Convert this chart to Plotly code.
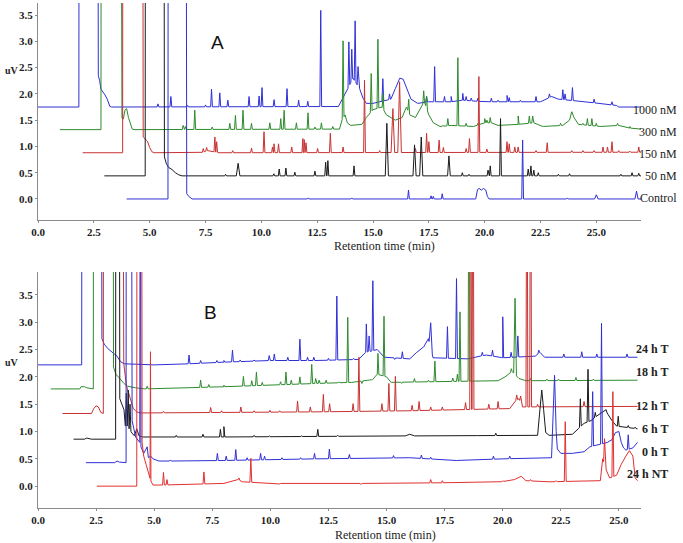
import numpy as np
import plotly.graph_objects as go

# ---------------- Panel A data (retention time min, signal uV) ----------------
A_names = ["1000 nM", "300 nM", "150 nM", "50 nM", "Control"]
A_colors = ["#2f2fd6", "#2e8b2e", "#c83232", "#1a1a1a", "#2f2fd6"]

A_bg_1000 = [(0, 1.75), (1.83, 1.75), (1.84, 8), (2.68, 8), (2.70, 2.35), (2.76, 2.25), (2.82, 2.09),
             (2.9, 2.05), (3.0, 1.98), (3.1, 1.9), (3.22, 1.76), (3.3, 1.75), (13.45, 1.76), (13.7, 1.95),
             (14.1, 2.3), (14.4, 2.1), (14.55, 1.92), (14.7, 1.82), (15.0, 1.82), (15.8, 1.9), (16.0, 2.1),
             (16.2, 2.3), (16.35, 2.28), (16.5, 2.1), (16.7, 1.9), (17.0, 1.82), (17.5, 1.85), (18.5, 1.85),
             (19.0, 1.88), (20.0, 1.85), (21.0, 1.85), (22.5, 1.85), (23.0, 1.95), (23.3, 1.9), (24.5, 1.85),
             (25.9, 1.78), (26.0, 1.75), (27.0, 1.75)]
A_pk_1000 = [(5.37, 1.81), (5.95, 1.95), (6.7, 1.78), (7.5, 1.79), (7.77, 2.09), (8.14, 2.02), (8.5, 1.88),
             (9.45, 1.95), (9.9, 1.96), (10.03, 2.12), (10.57, 1.89), (11.15, 2.1), (11.67, 1.88), (12.08, 1.86),
             (12.66, 3.59), (13.92, 2.99), (14.05, 2.85), (14.2, 3.39), (14.33, 2.52), (15.44, 2.29),
             (15.74, 2.0), (16.04, 2.14), (16.6, 2.0), (17.4, 1.95), (17.76, 2.52), (18.2, 1.95), (18.5, 1.95),
             (19.02, 2.01), (19.17, 1.95), (19.4, 1.92), (19.7, 1.92), (20.3, 1.92), (20.6, 1.88), (21.0, 1.97),
             (21.1, 1.93), (21.6, 1.88), (22.3, 1.95), (22.9, 2.0), (23.5, 2.08), (23.6, 2.0), (23.93, 2.12),
             (24.9, 1.9), (25.7, 1.85)]

A_bg_300 = [(0.98, 1.32), (2.82, 1.32), (2.83, 8), (3.72, 8), (3.76, 1.55), (3.82, 1.52), (3.9, 1.7),
            (3.97, 1.72), (4.05, 1.55), (4.15, 1.4), (4.22, 1.33), (4.3, 1.32), (13.5, 1.33), (13.6, 1.5),
            (13.75, 1.6), (13.85, 1.45), (14.0, 1.4), (14.5, 1.42), (14.7, 1.55), (15.0, 1.7), (15.4, 1.75),
            (15.6, 1.6), (16.0, 1.5), (16.3, 1.55), (16.5, 1.75), (16.65, 1.6), (16.9, 1.55), (17.1, 1.72),
            (17.3, 1.85), (17.5, 1.6), (17.7, 1.45), (18.0, 1.38), (18.5, 1.4), (19.5, 1.38), (20.0, 1.45),
            (20.3, 1.45), (20.6, 1.4), (21.5, 1.42), (22.2, 1.45), (22.6, 1.38), (23.5, 1.4), (23.8, 1.5),
            (24.0, 1.55), (24.2, 1.42), (25.2, 1.38), (26.0, 1.4), (26.5, 1.35), (27.0, 1.33)]
A_pk_300 = [(6.5, 1.40), (6.6, 1.38), (7.02, 1.69), (7.8, 1.37), (8.59, 1.44), (8.84, 1.59), (9.18, 1.69),
            (9.56, 1.44), (10.38, 1.45), (10.87, 1.53), (11.02, 1.69), (11.57, 1.45), (12.09, 1.64),
            (12.4, 1.37), (12.69, 1.45), (13.2, 1.38), (13.66, 3.01), (14.92, 2.39), (15.22, 3.04),
            (15.45, 2.0), (16.6, 1.9), (17.27, 2.06), (17.4, 1.96), (18.13, 1.40), (18.35, 1.53),
            (18.8, 2.69), (19.17, 1.44), (19.7, 1.44), (20.0, 1.53), (20.1, 1.50), (20.25, 1.55), (21.5, 1.58),
            (22.0, 1.58), (22.15, 1.58), (22.6, 1.39), (23.0, 1.39), (23.4, 1.44), (23.9, 1.66, 0.1),
            (24.4, 1.44), (24.6, 1.53), (24.8, 1.53), (25.0, 1.44), (25.95, 1.44), (26.5, 1.38)]

A_bg_150 = [(2.0, 0.88), (3.79, 0.88), (3.80, 8), (4.69, 8), (4.71, 1.18), (4.8, 1.15), (4.9, 1.1),
            (5.0, 0.98), (5.1, 0.9), (5.2, 0.88), (7.3, 0.88), (7.6, 0.92), (8.1, 0.88), (27.0, 0.89)]
A_pk_150 = [(7.4, 0.96), (7.55, 0.98), (7.92, 1.18), (8.0, 1.09), (8.72, 0.92), (9.56, 0.97), (10.12, 1.28),
            (10.5, 0.99), (10.57, 1.05), (10.77, 1.05), (11.36, 0.99), (11.86, 1.15), (11.92, 1.13),
            (12.0, 1.07), (12.52, 0.96), (13.09, 1.25), (13.66, 0.99), (14.62, 2.26), (15.3, 0.92),
            (15.89, 1.72, 0.08), (16.19, 2.23, 0.08), (16.9, 0.96), (17.4, 1.25), (17.5, 1.09), (17.96, 1.12),
            (18.15, 0.98), (19.17, 0.96), (19.32, 1.15), (19.74, 2.33), (20.1, 0.95), (21.0, 1.09),
            (21.1, 1.05), (21.35, 0.99), (21.5, 0.99), (22.3, 0.92), (22.8, 1.07), (23.9, 0.92), (24.4, 0.92),
            (24.9, 0.92), (25.3, 0.99), (25.5, 0.99), (25.7, 1.09), (26.0, 0.92), (26.5, 0.91), (26.9, 0.99)]

A_bg_50 = [(2.97, 0.44), (4.8, 0.44), (4.81, 8), (5.64, 8), (5.66, 0.8), (5.75, 0.67), (5.85, 0.6),
           (6.0, 0.56), (6.15, 0.5), (6.3, 0.46), (6.45, 0.44), (27.0, 0.44)]
A_pk_50 = [(8.4, 0.47), (8.96, 0.68, 0.08), (10.56, 0.48), (10.8, 0.57), (11.1, 0.59), (11.5, 0.51),
           (12.4, 0.53), (12.88, 0.70), (12.98, 0.73), (14.15, 0.63), (15.62, 1.44, 0.07),
           (16.86, 1.03, 0.07), (17.16, 1.18, 0.07), (18.4, 0.82, 0.06), (19.0, 0.5), (19.3, 0.47),
           (20.15, 0.55), (20.25, 0.63), (20.71, 1.53), (21.95, 0.57), (22.07, 0.63), (22.2, 0.55),
           (22.4, 0.5), (23.3, 0.47), (23.8, 0.48), (26.1, 0.47), (26.6, 0.5), (26.9, 0.49)]

A_bg_ctrl = [(3.97, 0.0), (5.82, 0.0), (5.83, 8), (6.63, 8), (6.66, 0.1), (6.75, 0.05), (6.9, 0.0),
             (19.6, 0.0), (19.68, 0.18), (19.75, 0.2), (19.85, 0.17), (19.95, 0.2), (20.05, 0.17),
             (20.12, 0.05), (20.2, 0.0), (27.0, 0.0)]
A_pk_ctrl = [(12.1, 0.02), (14.05, 0.02), (16.59, 0.17), (17.6, 0.06), (17.7, 0.05), (18.1, 0.1),
             (21.7, 1.12), (23.7, 0.02), (25.0, 0.08, 0.08), (26.8, 0.15, 0.07)]

A_bgs = [A_bg_1000, A_bg_300, A_bg_150, A_bg_50, A_bg_ctrl]
A_pks = [A_pk_1000, A_pk_300, A_pk_150, A_pk_50, A_pk_ctrl]
A_label_y = [1.69, 1.27, 0.86, 0.44, 0.02]

# ---------------- Panel B data ----------------
B_names = ["24 h T", "18 h T", "12 h T", "6 h T", "0 h T", "24 h NT"]
B_colors = ["#2f2fd6", "#2e8b2e", "#c83232", "#1a1a1a", "#2f2fd6", "#e03030"]

B_bg_24T = [(0, 2.22), (1.88, 2.22), (1.89, 8), (2.73, 8), (2.75, 2.7), (2.85, 2.6), (3.0, 2.52),
            (3.2, 2.45), (3.4, 2.38), (3.55, 2.28), (3.7, 2.24), (5.0, 2.22), (6.0, 2.23), (8.0, 2.27),
            (10, 2.3), (12, 2.3), (13.8, 2.32), (14.1, 2.45), (14.6, 2.5), (14.9, 2.36), (16, 2.33),
            (16.3, 2.45), (16.6, 2.55), (16.8, 2.7), (17.0, 2.35), (18.5, 2.33), (19, 2.38), (19.3, 2.4),
            (20, 2.35), (21.4, 2.38), (21.6, 2.45), (21.8, 2.36), (25.8, 2.36)]
B_pk_24T = [(6.5, 2.4), (7.0, 2.3), (7.7, 2.3), (8.0, 2.3), (8.37, 2.49), (8.7, 2.31), (9.3, 2.31),
            (9.95, 2.39), (10.17, 2.42), (10.75, 2.36), (11.27, 2.69), (11.6, 2.36), (11.87, 2.36),
            (12.5, 2.34), (12.86, 3.48), (13.58, 2.34), (13.94, 2.4), (14.13, 2.97), (14.25, 2.75),
            (14.41, 3.76), (15.35, 2.32), (15.68, 2.46), (16.9, 2.99, 0.07), (17.62, 2.92), (18.01, 3.80),
            (19.12, 2.45), (19.56, 2.49), (20.0, 3.1), (20.36, 2.45), (20.65, 2.75), (21.55, 2.49),
            (22.63, 2.42), (23.4, 2.46), (24.05, 2.42), (25.35, 2.42)]

B_bg_18T = [(0.55, 1.78), (1.8, 1.78), (1.85, 1.82), (2.0, 1.82), (2.1, 1.8), (2.38, 1.78), (2.39, 8),
            (3.23, 8), (3.25, 2.18), (3.35, 2.05), (3.5, 1.98), (3.7, 1.88), (3.85, 1.83), (4.2, 1.8),
            (4.6, 1.78), (8, 1.82), (12, 1.88), (13.5, 1.9), (14.4, 1.95), (14.6, 2.05), (15.0, 2.0),
            (15.2, 1.9), (19.8, 1.93), (20.1, 2.0), (20.4, 2.1), (20.7, 1.97), (21.0, 1.93), (25.8, 1.94)]
B_pk_18T = [(4.7, 1.83), (7.0, 1.94), (7.35, 1.86), (8.0, 1.85), (8.84, 2.01), (9.2, 1.93), (9.4, 2.09),
            (9.65, 1.9), (10.44, 1.91), (10.67, 2.09), (10.9, 1.94), (11.27, 2.0), (11.78, 2.23),
            (11.95, 1.97), (12.1, 1.94), (12.4, 1.94), (12.95, 1.91), (13.33, 3.09), (13.94, 1.88),
            (14.3, 1.94), (14.63, 2.43), (14.89, 3.11), (15.65, 1.88), (16.2, 1.97), (16.8, 1.94),
            (17.08, 2.29), (17.85, 1.98), (18.05, 2.05), (18.16, 3.19), (18.55, 8), (20.2, 2.05),
            (20.37, 2.15), (20.53, 3.44, 0.06), (21.2, 1.97), (21.9, 1.96), (22.4, 1.96), (23.15, 1.99),
            (23.9, 1.96)]

B_bg_12T = [(1.05, 1.33), (2.3, 1.33), (2.4, 1.42), (2.5, 1.47), (2.6, 1.45), (2.7, 1.35), (2.81, 1.33),
            (2.82, 8), (3.66, 8), (3.69, 2.25), (3.8, 1.85), (3.9, 1.7), (4.0, 1.55), (4.1, 1.42),
            (4.25, 1.36), (4.4, 1.34), (12, 1.36), (16, 1.38), (20.3, 1.42), (20.5, 1.55), (20.7, 1.6),
            (20.85, 1.45), (25.8, 1.46)]
B_pk_12T = [(5.4, 1.37), (7.43, 1.44), (7.9, 1.38), (8.73, 1.45), (9.3, 1.38), (9.98, 1.39), (10.4, 1.38),
            (11.17, 1.56), (11.72, 1.45), (12.28, 1.68), (12.55, 1.51), (13.56, 1.51), (13.81, 2.36),
            (14.8, 1.51), (15.1, 1.88), (15.38, 2.01), (16.1, 1.48), (16.4, 1.55), (16.9, 1.45),
            (17.4, 1.45), (18.4, 1.53), (18.62, 8), (18.72, 8), (19.4, 1.5), (19.8, 1.55), (20.6, 1.67),
            (20.77, 1.65), (21.04, 8), (21.2, 8), (21.5, 1.5), (23.5, 1.55)]

B_bg_6T = [(1.53, 0.86), (2.0, 0.86), (2.1, 0.88), (2.3, 0.86), (3.34, 0.86), (3.35, 8), (3.5, 8),
           (3.52, 1.6), (3.7, 1.4), (3.76, 1.1), (3.8, 1.7), (3.84, 1.1), (3.88, 1.76), (3.92, 1.05),
           (3.96, 1.5), (4.0, 1.0), (4.05, 0.97), (4.15, 0.92), (4.25, 1.05), (4.35, 0.92), (4.5, 0.9),
           (8, 0.9), (15.8, 0.92), (16, 0.95), (16.2, 0.92), (21.5, 0.93), (21.6, 1.4), (21.68, 1.76),
           (21.76, 1.4), (21.85, 0.98), (22, 0.93), (23.0, 0.95), (23.25, 1.05), (23.5, 1.15), (23.8, 1.2),
           (24.1, 1.3), (24.4, 1.4), (24.7, 1.2), (24.9, 1.1), (25.8, 1.05)]
B_pk_6T = [(5.95, 0.93), (7.1, 0.95), (7.85, 1.04), (8.0, 1.09), (9.3, 0.93), (9.95, 0.92), (11.35, 0.92),
           (12.04, 1.04), (12.9, 0.93), (14.6, 0.93), (18.9, 0.93), (19.7, 0.97), (23.34, 1.6),
           (23.67, 2.14), (23.98, 1.35), (24.45, 1.4), (24.97, 1.28), (25.4, 1.11), (25.7, 1.08)]

B_bg_0T = [(2.06, 0.43), (3.3, 0.43), (3.4, 0.46), (3.5, 0.44), (3.79, 0.43), (3.8, 8), (4.02, 8),
           (4.05, 1.2), (4.2, 0.9), (4.38, 0.8), (4.4, 8), (4.43, 0.72), (4.55, 0.6), (4.7, 0.72),
           (4.75, 0.52), (4.85, 0.55), (4.95, 0.5), (5.2, 0.46), (6.0, 0.46), (8, 0.47), (12, 0.5),
           (16, 0.52), (18, 0.47), (20, 0.5), (22.1, 0.52), (22.15, 1.0), (22.23, 2.03), (22.3, 1.0),
           (22.35, 0.68), (22.5, 0.6), (23.0, 0.6), (23.5, 0.63), (23.75, 0.72), (24.5, 0.8), (24.7, 0.85),
           (24.85, 0.98), (25.0, 1.0), (25.1, 0.8), (25.2, 0.7), (25.3, 0.66), (25.6, 0.7), (25.8, 0.8)]
B_pk_0T = [(5.7, 0.48), (6.4, 0.47), (7.72, 0.6), (8.1, 0.55), (8.51, 0.67), (9.0, 0.52), (9.58, 0.6),
           (9.75, 0.55), (10.5, 0.52), (11.3, 0.52), (11.9, 0.6), (12.54, 0.68), (13.4, 0.58), (14.6, 0.5),
           (15.3, 0.56), (16.5, 0.57), (16.9, 0.53), (19.6, 0.55), (20.3, 0.55), (23.87, 1.73),
           (24.25, 2.98), (25.4, 0.94)]

B_bg_NT = [(2.53, 0.0), (4.25, 0.0), (4.26, 8), (4.46, 8), (4.48, 0.8), (4.55, 0.55), (4.65, 0.4),
           (4.75, 0.25), (4.85, 0.1), (4.95, 0.02), (5.3, 0.02), (8, 0.05), (8.4, 0.1), (8.6, 0.12),
           (8.8, 0.08), (10, 0.05), (14, 0.05), (19.8, 0.07), (20.5, 0.12), (20.8, 0.18), (21.0, 0.1),
           (22, 0.08), (24.2, 0.1), (24.3, 0.5), (24.45, 0.3), (24.6, 0.15), (24.9, 0.2), (25.1, 0.4),
           (25.3, 0.55), (25.45, 0.65), (25.6, 0.55), (25.7, 0.15), (25.8, 0.1)]
B_pk_NT = [(4.84, 2.46, 0.02), (5.4, 0.25), (5.55, 0.12), (7.14, 0.26), (8.1, 0.07), (8.65, 0.15),
           (9.16, 0.51), (9.5, 0.06), (10.4, 0.04), (13.0, 0.05), (13.9, 0.03), (15.5, 0.06), (16.9, 0.12),
           (17.4, 0.1), (20.0, 0.1), (21.2, 0.12), (22.3, 0.1), (22.69, 1.18), (24.38, 0.87),
           (24.74, 1.73), (25.35, 0.6)]

B_bgs = [B_bg_24T, B_bg_18T, B_bg_12T, B_bg_6T, B_bg_0T, B_bg_NT]
B_pks = [B_pk_24T, B_pk_18T, B_pk_12T, B_pk_6T, B_pk_0T, B_pk_NT]
B_label_y = [2.51, 2.09, 1.47, 1.04, 0.62, 0.22]

x_ticks = [0, 2.5, 5, 7.5, 10, 12.5, 15, 17.5, 20, 22.5, 25]
y_ticks = [0, 0.5, 1, 1.5, 2, 2.5, 3, 3.5]


def build(bg, peaks, w_default=0.04):
    bt = np.array([p[0] for p in bg], float)
    by = np.array([p[1] for p in bg], float)
    verts = [(p[0], p[1]) for p in bg]
    for pk in peaks:
        t, apex = pk[0], pk[1]
        w = pk[2] if len(pk) > 2 else w_default
        verts.append((t - w, float(np.interp(t - w, bt, by))))
        verts.append((t, apex))
        verts.append((t + w, float(np.interp(t + w, bt, by))))
    verts.sort(key=lambda v: v[0])
    return [v[0] for v in verts], [v[1] for v in verts]


fig = go.Figure()
for name, col, bg, pk in zip(A_names, A_colors, A_bgs, A_pks):
    x, y = build(bg, pk)
    fig.add_trace(go.Scatter(x=x, y=y, mode="lines", name=name, line=dict(color=col, width=1),
                             xaxis="x", yaxis="y", showlegend=False, hoverinfo="skip"))
for name, col, bg, pk in zip(B_names, B_colors, B_bgs, B_pks):
    x, y = build(bg, pk)
    fig.add_trace(go.Scatter(x=x, y=y, mode="lines", name=name, line=dict(color=col, width=1),
                             xaxis="x2", yaxis="y2", showlegend=False, hoverinfo="skip"))

tickfont = dict(family="Liberation Serif", size=11, color="#222", weight="bold")
axis_common = dict(showline=True, linecolor="#8a8a8a", linewidth=1, ticks="outside", ticklen=2,
                   tickcolor="#8a8a8a", showgrid=False, zeroline=False, tickfont=tickfont,
                   automargin=False)

fig.update_layout(
    width=683, height=543, plot_bgcolor="white", paper_bgcolor="white",
    margin=dict(l=38, r=42, t=3, b=35, autoexpand=False),
    xaxis=dict(domain=[0, 1], range=[0, 27.0], anchor="y", tickvals=x_ticks,
               ticktext=[f"{v:.1f}" for v in x_ticks], **axis_common),
    yaxis=dict(domain=[0.5703, 1], range=[-0.4, 3.73], anchor="x", tickvals=y_ticks,
               ticktext=[f"{v:.1f}" for v in y_ticks], **axis_common),
    xaxis2=dict(domain=[0, 1], range=[0, 25.95], anchor="y2", tickvals=x_ticks,
                ticktext=[f"{v:.1f}" for v in x_ticks], **axis_common),
    yaxis2=dict(domain=[0, 0.4673], range=[-0.4, 3.92], anchor="x2", tickvals=y_ticks,
                ticktext=[f"{v:.1f}" for v in y_ticks], **axis_common),
)

ann = []
labfont = dict(family="Liberation Serif", size=12, color="#222")
for name, yv in zip(A_names, A_label_y):
    ann.append(dict(text=name, x=1.063, xref="paper", y=yv, yref="y", xanchor="right",
                    yanchor="middle", showarrow=False, font=labfont))
labfontB = dict(family="Liberation Serif", size=12, color="#222", weight="bold")
for name, yv in zip(B_names, B_label_y):
    ann.append(dict(text=name, x=1.048, xref="paper", y=yv, yref="y2", xanchor="right",
                    yanchor="middle", showarrow=False, font=labfontB))
uv_x = (12 - 38) / 603
ann += [
    dict(text="A", x=8.05, y=2.97, xref="x", yref="y", showarrow=False,
         font=dict(family="Liberation Sans", size=19, color="#111")),
    dict(text="B", x=7.43, y=3.17, xref="x2", yref="y2", showarrow=False,
         font=dict(family="Liberation Sans", size=19, color="#111")),
    dict(text="uV", x=uv_x, y=2.45, xref="paper", yref="y", showarrow=False,
         font=dict(family="Liberation Serif", size=10, color="#222", weight="bold")),
    dict(text="uV", x=uv_x, y=2.27, xref="paper", yref="y2", showarrow=False,
         font=dict(family="Liberation Serif", size=10, color="#222", weight="bold")),
    dict(text="Retention time (min)", x=0.575, y=0.519, xref="paper", yref="paper", showarrow=False,
         font=dict(family="Liberation Serif", size=12, color="#222")),
    dict(text="Retention time (min)", x=0.577, y=-0.054, xref="paper", yref="paper", showarrow=False,
         font=dict(family="Liberation Serif", size=12, color="#222")),
]
for a in ann:
    a.setdefault("xanchor", "center")
    a.setdefault("yanchor", "middle")
fig.update_layout(annotations=ann)

fig.write_html("out.html", config={"displayModeBar": False},
               post_script="document.body.style.margin='0';")
